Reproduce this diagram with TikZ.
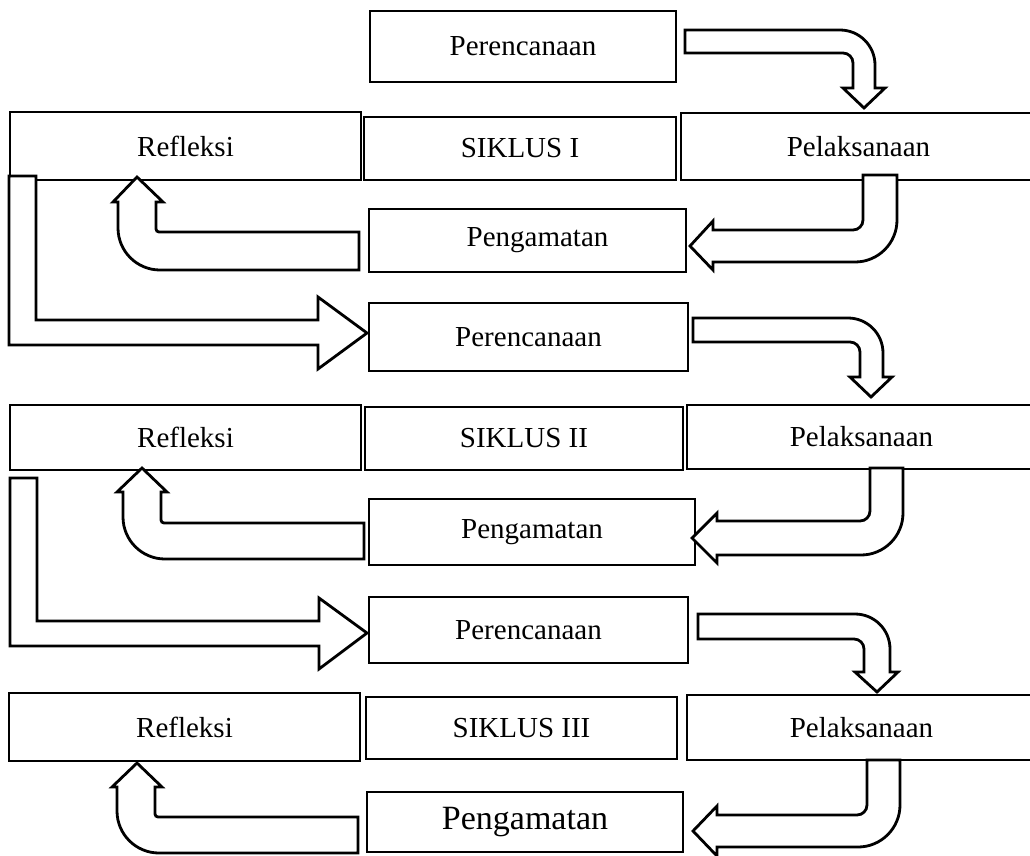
\documentclass[tikz,border=0pt]{standalone}
\usepackage{fontspec}
\setmainfont{Liberation Serif}
\usepackage{tikz}
\tikzset{box/.style={draw, line width=2.8pt, inner sep=0pt,
        font=\fontsize{29}{34}\selectfont},
    bigbox/.style={box, font=\fontsize{34}{40}\selectfont},
    barrow/.style={draw, fill=white, line width=2.8pt, line join=miter}}

\begin{document}
\begin{tikzpicture}[x=1pt, y=-1pt]
    \useasboundingbox (0,0) rectangle (1030,855);
    \clip (0,0) rectangle (1030,855);
    % siklus I
    \node[box, minimum width=306, minimum height=71] (plan1) at (523,46.5) {Perencanaan};
    \node[box, minimum width=351, minimum height=68] (refl1) at (185.5,146) {Refleksi};
    \node[box, minimum width=312, minimum height=63] (cyc1) at (520,148.5) {SIKLUS I};
    \node[box, minimum width=355, minimum height=67] (exec1) at (858.5,146.5) {Pelaksanaan};
    \node[box, minimum width=317, minimum height=63] (obs1) at (527.5,240.5) {\hspace{20pt}Pengamatan};
    % siklus II
    \node[box, minimum width=319, minimum height=68] (plan2) at (528.5,337) {Perencanaan};
    \node[box, minimum width=351, minimum height=65] (refl2) at (185.5,437.5) {Refleksi};
    \node[box, minimum width=318, minimum height=63] (cyc2) at (524,438.5) {SIKLUS II};
    \node[box, minimum width=349, minimum height=64] (exec2) at (861.5,437) {Pelaksanaan};
    \node[box, minimum width=326, minimum height=66] (obs2) at (532,532) {Pengamatan};
    % siklus III
    \node[box, minimum width=319, minimum height=66] (plan3) at (528.5,630) {Perencanaan};
    \node[box, minimum width=351, minimum height=68] (refl3) at (184.5,727) {Refleksi};
    \node[box, minimum width=311, minimum height=62] (cyc3) at (521.5,728) {SIKLUS III};
    \node[box, minimum width=349, minimum height=65] (exec3) at (861.5,727.5) {Pelaksanaan};
    \node[bigbox, minimum width=316, minimum height=60] (obs3) at (525,822) {Pengamatan};

    % arrows siklus I
    \draw[barrow] (685,30) -- (840,30) arc[start angle=-90, end angle=0, radius=35]
        -- (875,88) -- (885,88) -- (864,108) -- (843,88) -- (853,88) -- (853,63)
        arc[start angle=0, end angle=-90, radius=10] -- (685,53) -- cycle;
    \draw[barrow] (863,175) -- (897,175) -- (897,220) arc[start angle=0, end angle=90, radius=42]
        -- (713,262) -- (713,270) -- (690,246) -- (713,221) -- (713,230) -- (853,230)
        arc[start angle=90, end angle=0, radius=10] -- cycle;
    \draw[barrow] (359,232) -- (159,232) arc[start angle=90, end angle=180, radius=3]
        -- (156,202) -- (163,202) -- (137,177) -- (113,202) -- (118,202) -- (118,228)
        arc[start angle=180, end angle=90, radius=42] -- (359,270) -- cycle;
    \draw[barrow] (9,176) -- (36,176) -- (36,320) -- (318,320) -- (318,297) -- (367,333)
        -- (318,369) -- (318,345) -- (9,345) -- cycle;

    % arrows siklus II
    \draw[barrow] (693,318) -- (848,318) arc[start angle=-90, end angle=0, radius=35]
        -- (883,377) -- (892,377) -- (871,397) -- (850,377) -- (860,377) -- (860,352)
        arc[start angle=0, end angle=-90, radius=10] -- (693,342) -- cycle;
    \draw[barrow] (870,468) -- (903,468) -- (903,513) arc[start angle=0, end angle=90, radius=42]
        -- (717,555) -- (717,563) -- (692,538) -- (717,513) -- (717,521) -- (860,521)
        arc[start angle=90, end angle=0, radius=10] -- cycle;
    \draw[barrow] (364,523) -- (164,523) arc[start angle=90, end angle=180, radius=3]
        -- (161,492) -- (167,492) -- (142,468) -- (117,492) -- (123,492) -- (123,517)
        arc[start angle=180, end angle=90, radius=42] -- (364,559) -- cycle;
    \draw[barrow] (10,478) -- (37,478) -- (37,621) -- (319,621) -- (319,598) -- (367,633)
        -- (319,669) -- (319,646) -- (10,646) -- cycle;

    % arrows siklus III
    \draw[barrow] (698,614) -- (855,614) arc[start angle=-90, end angle=0, radius=35]
        -- (890,672) -- (898,672) -- (877,692) -- (855,672) -- (864,672) -- (864,649)
        arc[start angle=0, end angle=-90, radius=10] -- (698,639) -- cycle;
    \draw[barrow] (867,760) -- (900,760) -- (900,805) arc[start angle=0, end angle=90, radius=42]
        -- (717,847) -- (717,856) -- (693,831) -- (717,806) -- (717,815) -- (857,815)
        arc[start angle=90, end angle=0, radius=10] -- cycle;
    \draw[barrow] (358,817) -- (158,817) arc[start angle=90, end angle=180, radius=3]
        -- (155,787) -- (162,787) -- (137,763) -- (112,787) -- (117,787) -- (117,811)
        arc[start angle=180, end angle=90, radius=42] -- (358,853) -- cycle;
\end{tikzpicture}
\end{document}
